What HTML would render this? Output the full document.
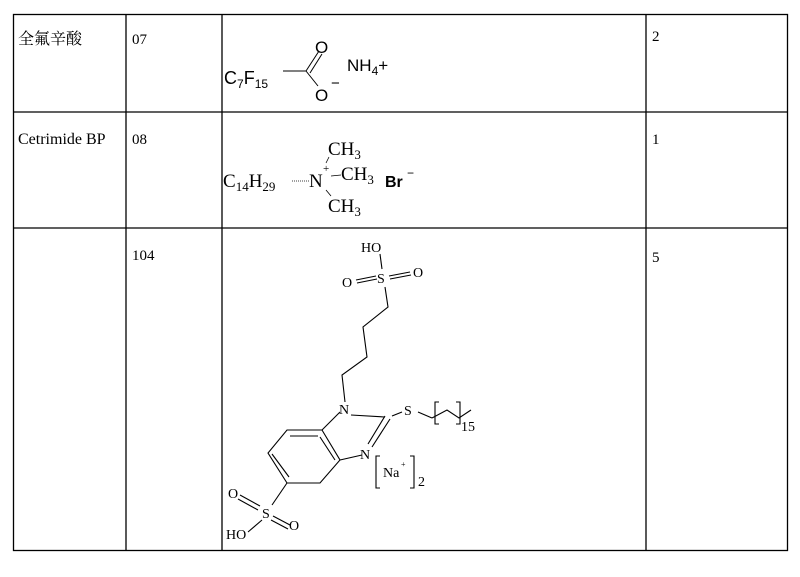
<!DOCTYPE html>
<html><head><meta charset="utf-8"><style>
body{margin:0;background:#fff;width:800px;height:577px;overflow:hidden}
svg{display:block}
text{font-family:"Liberation Serif","Noto Serif CJK SC",serif;fill:#000}
.s{font-family:"Liberation Sans",sans-serif}
</style></head><body>
<svg width="800" height="577" viewBox="0 0 800 577" xmlns="http://www.w3.org/2000/svg">
<g stroke="#000" stroke-width="1.3" fill="none">
<rect x="13.5" y="14.5" width="774" height="536"/>
<line x1="126" y1="14" x2="126" y2="551"/>
<line x1="222" y1="14" x2="222" y2="551"/>
<line x1="646" y1="14" x2="646" y2="551"/>
<line x1="13" y1="112" x2="788" y2="112"/>
<line x1="13" y1="228" x2="788" y2="228"/>
</g>
<text x="18" y="44" font-size="16" style="font-family:'Noto Serif CJK SC','Noto Sans CJK SC',serif">全氟辛酸</text>
<text x="132" y="44" font-size="15">07</text>
<text x="652" y="41" font-size="15">2</text>
<text x="18" y="144" font-size="16">Cetrimide BP</text>
<text x="132" y="144" font-size="15">08</text>
<text x="652" y="144" font-size="15">1</text>
<text x="132" y="260" font-size="15">104</text>
<text x="652" y="262" font-size="15">5</text>

<!-- perfluoro -->
<text class="s" x="224" y="84" font-size="18">C<tspan font-size="12" dy="4">7</tspan><tspan dy="-4">F</tspan><tspan font-size="12" dy="4">15</tspan></text>
<g stroke="#000" stroke-width="1" fill="none">
<line x1="283" y1="71" x2="306" y2="71"/>
<line x1="306" y1="71" x2="319" y2="51"/>
<line x1="310" y1="73" x2="322" y2="54"/>
<line x1="306" y1="71" x2="318" y2="86"/>
</g>
<text class="s" x="315" y="53" font-size="17">O</text>
<text class="s" x="315" y="101" font-size="17">O</text>
<text class="s" x="331" y="88" font-size="15">−</text>
<text class="s" x="347" y="71" font-size="17">NH<tspan font-size="12" dy="4">4</tspan><tspan dy="-4">+</tspan></text>

<!-- cetrimide -->
<text x="223" y="187" font-size="19">C<tspan font-size="13" dy="4">14</tspan><tspan dy="-4">H</tspan><tspan font-size="13" dy="4">29</tspan></text>
<line x1="292" y1="181" x2="309" y2="181" stroke="#000" stroke-width="0.8" stroke-dasharray="1,1"/>
<text x="309" y="187" font-size="19">N</text>
<text x="323" y="172" font-size="11">+</text>
<text x="328" y="155" font-size="19">CH<tspan font-size="13" dy="4">3</tspan></text>
<text x="341" y="180" font-size="19">CH<tspan font-size="13" dy="4">3</tspan></text>
<text x="328" y="212" font-size="19">CH<tspan font-size="13" dy="4">3</tspan></text>
<g stroke="#000" stroke-width="0.8"><line x1="326" y1="163" x2="329" y2="157"/><line x1="331" y1="176" x2="341" y2="175"/><line x1="326" y1="190" x2="331" y2="196"/></g>
<text class="s" x="385" y="187" font-size="16" font-weight="bold">Br</text>
<text class="s" x="407" y="177" font-size="12">−</text>

<!-- compound 104 -->
<g stroke="#000" stroke-width="1.1" fill="none">
<line x1="380" y1="254" x2="382" y2="269"/>
<line x1="356" y1="280" x2="376" y2="276"/><line x1="357" y1="283" x2="377" y2="279"/>
<line x1="389" y1="276" x2="410" y2="272"/><line x1="390" y1="279" x2="411" y2="275"/>
<polyline points="385,287 388,307 363,327 367,357 342,375 345,402"/>
<line x1="351" y1="415" x2="385" y2="417"/>
<line x1="390" y1="419" x2="372" y2="447"/><line x1="385" y1="416" x2="368" y2="444"/>
<line x1="362" y1="455" x2="340" y2="460"/>
<line x1="340" y1="412" x2="322" y2="430"/>
<polygon points="322,430 287,430 268,453 287,483 320,483 340,460"/>
<line x1="290" y1="436" x2="318" y2="436"/>
<line x1="272" y1="454" x2="289" y2="477"/>
<line x1="335" y1="460" x2="320" y2="437"/>
<line x1="392" y1="416" x2="402" y2="412"/>
<line x1="418" y1="412" x2="432" y2="418"/>
<polyline points="432,418 447,410 459,418 471,410"/>
<path d="M439,402 h-4 v22 h4 M456,402 h4 v22 h-4"/>
<line x1="287" y1="483" x2="272" y2="505"/>
<line x1="240" y1="495" x2="260" y2="506"/><line x1="238" y1="499" x2="258" y2="510"/>
<line x1="273" y1="516" x2="290" y2="525"/><line x1="271" y1="520" x2="288" y2="529"/>
<line x1="262" y1="520" x2="248" y2="532"/>
<path d="M380,456 h-4 v32 h4 M410,456 h4 v32 h-4"/>
</g>
<text x="361" y="252" font-size="14">HO</text>
<text x="377" y="283" font-size="14">S</text>
<text x="342" y="287" font-size="14">O</text>
<text x="413" y="277" font-size="14">O</text>
<text x="339" y="414" font-size="14">N</text>
<text x="360" y="459" font-size="14">N</text>
<text x="404" y="415" font-size="14">S</text>
<text x="461" y="431" font-size="14">15</text>
<text x="383" y="477" font-size="14">Na</text>
<text x="401" y="467" font-size="8">+</text>
<text x="418" y="486" font-size="14">2</text>
<text x="262" y="518" font-size="14">S</text>
<text x="228" y="498" font-size="14">O</text>
<text x="289" y="530" font-size="14">O</text>
<text x="226" y="539" font-size="14">HO</text>
</svg>
</body></html>
